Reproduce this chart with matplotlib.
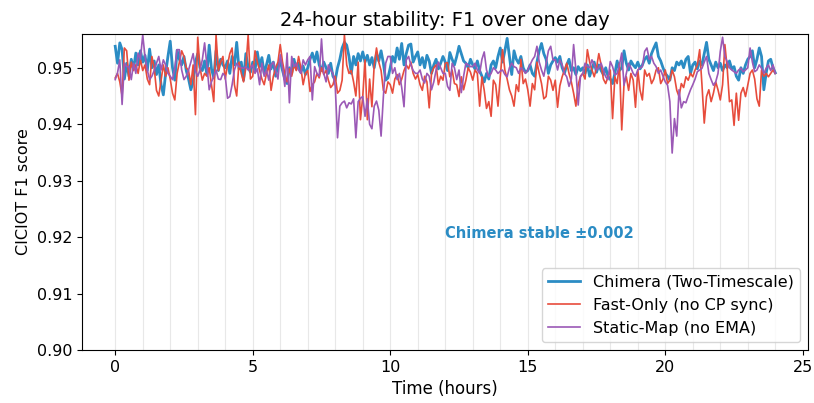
import numpy as np
import matplotlib
matplotlib.use("Agg")
import matplotlib.pyplot as plt

# time axis: one sample every 5 minutes over 24 h
hours = np.arange(289) / 12.0

# F1 values (one row = one hour, 12 samples)
chimera = [
    0.9538, 0.9508, 0.9544, 0.9532, 0.9480, 0.9508, 0.9485, 0.9515, 0.9498, 0.9526, 0.9505, 0.9530,
    0.9510, 0.9522, 0.9495, 0.9533, 0.9500, 0.9512, 0.9488, 0.9505, 0.9470, 0.9452, 0.9490, 0.9520,
    0.9547, 0.9500, 0.9478, 0.9531, 0.9515, 0.9505, 0.9520, 0.9495, 0.9480, 0.9461, 0.9475, 0.9510,
    0.9525, 0.9500, 0.9495, 0.9512, 0.9488, 0.9540, 0.9498, 0.9482, 0.9530, 0.9495, 0.9515, 0.9505,
    0.9500, 0.9512, 0.9490, 0.9520, 0.9505, 0.9545, 0.9498, 0.9510, 0.9478, 0.9525, 0.9501, 0.9492,
    0.9510, 0.9495, 0.9528, 0.9502, 0.9518, 0.9490, 0.9505, 0.9522, 0.9498, 0.9510, 0.9485, 0.9505,
    0.9512, 0.9495, 0.9480, 0.9472, 0.9500, 0.9490, 0.9515, 0.9498, 0.9508, 0.9492, 0.9503, 0.9488,
    0.9500, 0.9515, 0.9526, 0.9510, 0.9528, 0.9505, 0.9495, 0.9510, 0.9500, 0.9490, 0.9508, 0.9485,
    0.9478, 0.9500, 0.9515, 0.9535, 0.9545, 0.9540, 0.9520, 0.9490, 0.9520, 0.9505, 0.9525, 0.9512,
    0.9528, 0.9510, 0.9522, 0.9505, 0.9518, 0.9500, 0.9525, 0.9512, 0.9530, 0.9508, 0.9478, 0.9482,
    0.9500, 0.9520, 0.9510, 0.9535, 0.9515, 0.9543, 0.9505, 0.9525, 0.9540, 0.9542, 0.9510, 0.9520,
    0.9528, 0.9505, 0.9518, 0.9500, 0.9522, 0.9512, 0.9490, 0.9505, 0.9515, 0.9498, 0.9508, 0.9520,
    0.9510, 0.9495, 0.9527, 0.9515, 0.9505, 0.9520, 0.9538, 0.9525, 0.9512, 0.9508, 0.9500, 0.9515,
    0.9505, 0.9498, 0.9512, 0.9495, 0.9485, 0.9475, 0.9490, 0.9480, 0.9505, 0.9512, 0.9500, 0.9520,
    0.9535, 0.9510, 0.9530, 0.9552, 0.9520, 0.9488, 0.9530, 0.9515, 0.9508, 0.9520, 0.9500, 0.9492,
    0.9495, 0.9505, 0.9490, 0.9485, 0.9510, 0.9530, 0.9543, 0.9525, 0.9515, 0.9490, 0.9505, 0.9512,
    0.9518, 0.9510, 0.9520, 0.9500, 0.9490, 0.9505, 0.9515, 0.9495, 0.9500, 0.9488, 0.9502, 0.9495,
    0.9500, 0.9490, 0.9505, 0.9485, 0.9498, 0.9510, 0.9492, 0.9505, 0.9495, 0.9488, 0.9500, 0.9485,
    0.9480, 0.9472, 0.9490, 0.9512, 0.9495, 0.9500, 0.9530, 0.9508, 0.9496, 0.9512, 0.9505, 0.9500,
    0.9510, 0.9498, 0.9505, 0.9515, 0.9520, 0.9508, 0.9525, 0.9535, 0.9544, 0.9520, 0.9512, 0.9500,
    0.9490, 0.9485, 0.9478, 0.9500, 0.9495, 0.9510, 0.9505, 0.9512, 0.9500, 0.9515, 0.9520, 0.9490,
    0.9505, 0.9510, 0.9498, 0.9512, 0.9505, 0.9525, 0.9545, 0.9515, 0.9505, 0.9495, 0.9510, 0.9500,
    0.9508, 0.9495, 0.9505, 0.9500, 0.9512, 0.9498, 0.9502, 0.9485, 0.9478, 0.9500, 0.9490, 0.9505,
    0.9515, 0.9520, 0.9530, 0.9500, 0.9515, 0.9535, 0.9520, 0.9461, 0.9490, 0.9512, 0.9515, 0.9500,
    0.9491,
]

fast_only = [
    0.9482, 0.9490, 0.9475, 0.9450, 0.9535, 0.9530, 0.9478, 0.9510, 0.9495, 0.9505, 0.9490, 0.9515,
    0.9495, 0.9505, 0.9480, 0.9470, 0.9520, 0.9500, 0.9460, 0.9450, 0.9478, 0.9505, 0.9485, 0.9500,
    0.9480, 0.9455, 0.9443, 0.9490, 0.9510, 0.9530, 0.9520, 0.9500, 0.9495, 0.9470, 0.9505, 0.9417,
    0.9554, 0.9500, 0.9478, 0.9490, 0.9485, 0.9500, 0.9470, 0.9440, 0.9558, 0.9495, 0.9510, 0.9520,
    0.9480, 0.9505, 0.9525, 0.9535, 0.9470, 0.9450, 0.9510, 0.9490, 0.9475, 0.9500, 0.9558, 0.9480,
    0.9485, 0.9530, 0.9510, 0.9495, 0.9480, 0.9470, 0.9490, 0.9505, 0.9460, 0.9485, 0.9500, 0.9510,
    0.9541, 0.9510, 0.9490, 0.9475, 0.9498, 0.9485, 0.9505, 0.9495, 0.9520, 0.9500, 0.9470, 0.9490,
    0.9495, 0.9458, 0.9470, 0.9475, 0.9490, 0.9482, 0.9500, 0.9488, 0.9495, 0.9478, 0.9465, 0.9470,
    0.9485, 0.9455, 0.9460, 0.9478, 0.9558, 0.9505, 0.9490, 0.9495, 0.9475, 0.9450, 0.9510, 0.9408,
    0.9449, 0.9514, 0.9408, 0.9480, 0.9431, 0.9505, 0.9535, 0.9510, 0.9495, 0.9460, 0.9455, 0.9475,
    0.9470, 0.9455, 0.9480, 0.9488, 0.9470, 0.9480, 0.9495, 0.9505, 0.9498, 0.9510, 0.9490, 0.9480,
    0.9488, 0.9470, 0.9460, 0.9485, 0.9475, 0.9429, 0.9490, 0.9500, 0.9505, 0.9470, 0.9485, 0.9478,
    0.9508, 0.9509, 0.9484, 0.9496, 0.9472, 0.9470, 0.9449, 0.9484, 0.9461, 0.9478, 0.9500, 0.9492,
    0.9478, 0.9496, 0.9490, 0.9432, 0.9484, 0.9460, 0.9428, 0.9440, 0.9414, 0.9478, 0.9470, 0.9432,
    0.9484, 0.9532, 0.9496, 0.9480, 0.9461, 0.9450, 0.9432, 0.9470, 0.9458, 0.9515, 0.9472, 0.9480,
    0.9461, 0.9432, 0.9472, 0.9461, 0.9510, 0.9490, 0.9472, 0.9445, 0.9449, 0.9485, 0.9478, 0.9460,
    0.9478, 0.9430, 0.9468, 0.9484, 0.9496, 0.9508, 0.9490, 0.9475, 0.9455, 0.9432, 0.9470, 0.9485,
    0.9490, 0.9480, 0.9532, 0.9510, 0.9496, 0.9484, 0.9500, 0.9525, 0.9505, 0.9480, 0.9472, 0.9484,
    0.9496, 0.9410, 0.9484, 0.9472, 0.9508, 0.9390, 0.9472, 0.9484, 0.9460, 0.9490, 0.9478, 0.9430,
    0.9496, 0.9460, 0.9443, 0.9496, 0.9485, 0.9490, 0.9472, 0.9480, 0.9496, 0.9500, 0.9472, 0.9480,
    0.9496, 0.9472, 0.9478, 0.9496, 0.9484, 0.9460, 0.9449, 0.9472, 0.9465, 0.9484, 0.9478, 0.9490,
    0.9484, 0.9496, 0.9505, 0.9532, 0.9470, 0.9402, 0.9449, 0.9461, 0.9440, 0.9455, 0.9475, 0.9461,
    0.9443, 0.9470, 0.9541, 0.9500, 0.9440, 0.9443, 0.9398, 0.9455, 0.9407, 0.9455, 0.9465, 0.9449,
    0.9470, 0.9490, 0.9496, 0.9480, 0.9445, 0.9432, 0.9496, 0.9485, 0.9490, 0.9484, 0.9490, 0.9496,
    0.9490,
]

static_map = [
    0.9479, 0.9491, 0.9514, 0.9435, 0.9508, 0.9502, 0.9502, 0.9479, 0.9508, 0.9490, 0.9526, 0.9515,
    0.9558, 0.9520, 0.9496, 0.9479, 0.9485, 0.9495, 0.9508, 0.9520, 0.9496, 0.9514, 0.9505, 0.9490,
    0.9485, 0.9479, 0.9500, 0.9532, 0.9532, 0.9496, 0.9479, 0.9485, 0.9496, 0.9510, 0.9525, 0.9495,
    0.9485, 0.9496, 0.9514, 0.9544, 0.9505, 0.9461, 0.9475, 0.9485, 0.9496, 0.9480, 0.9479, 0.9490,
    0.9485, 0.9446, 0.9449, 0.9470, 0.9496, 0.9508, 0.9502, 0.9500, 0.9499, 0.9502, 0.9496, 0.9500,
    0.9505, 0.9490, 0.9498, 0.9470, 0.9508, 0.9485, 0.9496, 0.9478, 0.9505, 0.9510, 0.9495, 0.9480,
    0.9523, 0.9500, 0.9467, 0.9526, 0.9438, 0.9520, 0.9502, 0.9508, 0.9496, 0.9490, 0.9514, 0.9505,
    0.9514, 0.9520, 0.9443, 0.9502, 0.9490, 0.9485, 0.9551, 0.9490, 0.9475, 0.9505, 0.9496, 0.9490,
    0.9467, 0.9376, 0.9432, 0.9438, 0.9441, 0.9429, 0.9438, 0.9436, 0.9445, 0.9376, 0.9440, 0.9446,
    0.9449, 0.9414, 0.9445, 0.9400, 0.9392, 0.9432, 0.9441, 0.9425, 0.9379, 0.9449, 0.9508, 0.9520,
    0.9520, 0.9490, 0.9500, 0.9479, 0.9490, 0.9465, 0.9431, 0.9514, 0.9520, 0.9505, 0.9495, 0.9490,
    0.9490, 0.9496, 0.9480, 0.9473, 0.9490, 0.9485, 0.9461, 0.9475, 0.9496, 0.9510, 0.9500, 0.9490,
    0.9490, 0.9467, 0.9460, 0.9508, 0.9500, 0.9479, 0.9496, 0.9456, 0.9485, 0.9508, 0.9505, 0.9502,
    0.9502, 0.9508, 0.9496, 0.9490, 0.9515, 0.9528, 0.9496, 0.9484, 0.9490, 0.9500, 0.9496, 0.9490,
    0.9494, 0.9496, 0.9488, 0.9484, 0.9500, 0.9508, 0.9502, 0.9500, 0.9490, 0.9500, 0.9496, 0.9490,
    0.9496, 0.9505, 0.9514, 0.9520, 0.9538, 0.9510, 0.9496, 0.9485, 0.9508, 0.9530, 0.9538, 0.9514,
    0.9514, 0.9496, 0.9514, 0.9505, 0.9490, 0.9484, 0.9467, 0.9480, 0.9541, 0.9496, 0.9434, 0.9484,
    0.9490, 0.9508, 0.9502, 0.9500, 0.9514, 0.9505, 0.9496, 0.9500, 0.9508, 0.9496, 0.9484, 0.9479,
    0.9511, 0.9502, 0.9487, 0.9490, 0.9505, 0.9526, 0.9469, 0.9490, 0.9508, 0.9500, 0.9490, 0.9485,
    0.9496, 0.9500, 0.9502, 0.9529, 0.9535, 0.9515, 0.9520, 0.9508, 0.9502, 0.9490, 0.9496, 0.9485,
    0.9475, 0.9469, 0.9440, 0.9349, 0.9410, 0.9379, 0.9461, 0.9429, 0.9440, 0.9438, 0.9450, 0.9461,
    0.9470, 0.9480, 0.9493, 0.9496, 0.9499, 0.9510, 0.9520, 0.9490, 0.9479, 0.9469, 0.9475, 0.9490,
    0.9529, 0.9554, 0.9520, 0.9511, 0.9500, 0.9496, 0.9493, 0.9490, 0.9496, 0.9499, 0.9493, 0.9496,
    0.9500, 0.9535, 0.9510, 0.9493, 0.9496, 0.9505, 0.9499, 0.9490, 0.9499, 0.9505, 0.9495, 0.9505,
    0.9490,
]

fig, ax = plt.subplots(figsize=(8.14, 4.03), dpi=100)
fig.subplots_adjust(left=0.101, right=0.993, top=0.916, bottom=0.131)

# faint hourly guide lines
for h in range(25):
    ax.axvline(h, color="#e8e8e8", lw=0.8, zorder=0)

ax.plot(hours, chimera, color="#2b8cc4", lw=2.0, label="Chimera (Two-Timescale)")
ax.plot(hours, fast_only, color="#e74c3c", lw=1.2, label="Fast-Only (no CP sync)")
ax.plot(hours, static_map, color="#9b59b6", lw=1.2, label="Static-Map (no EMA)")

ax.text(12, 0.9194, "Chimera stable \u00b10.002", color="#2b8cc4",
        fontsize=10.5, fontweight="bold", ha="left", va="bottom")

ax.set_ylim(0.90, 0.956)
ax.set_xlabel("Time (hours)", fontsize=12)
ax.set_ylabel("CICIOT F1 score", fontsize=11.5)
ax.set_title("24-hour stability: F1 over one day", fontsize=14)
ax.tick_params(labelsize=11.5)
ax.legend(loc="lower right", fontsize=11.5)

fig.savefig("out.png", dpi=100)
